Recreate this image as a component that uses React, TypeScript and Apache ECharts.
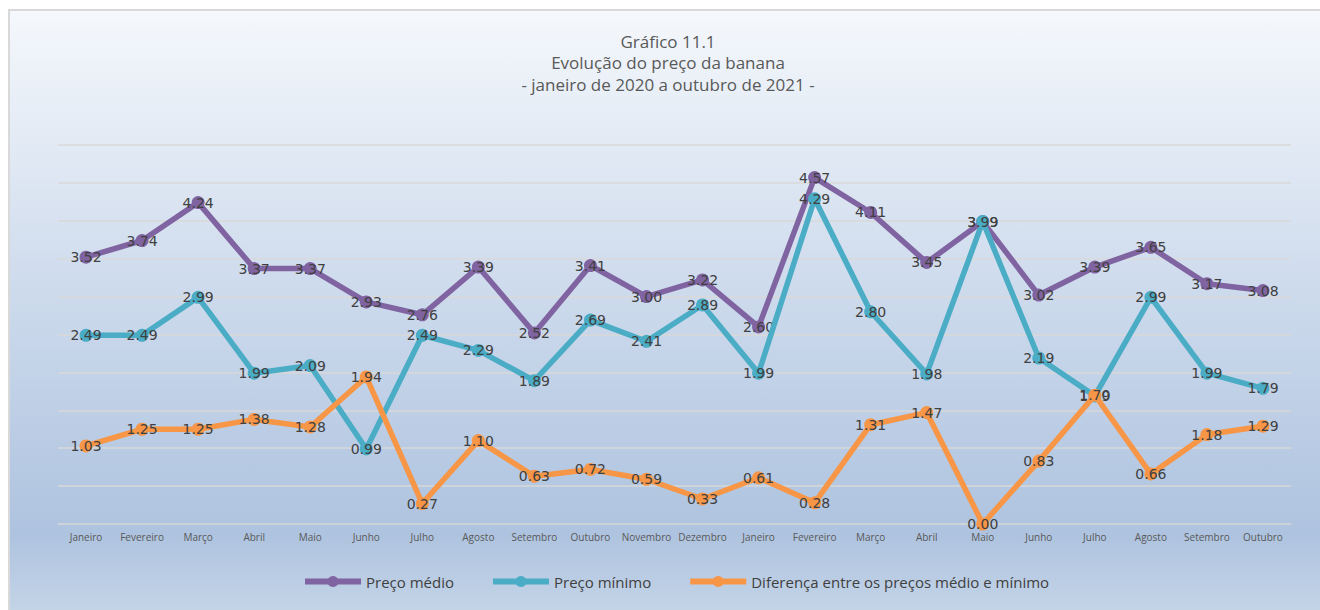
import React, { useEffect, useRef } from "react";
import * as echarts from "echarts";

const meses = [
  "Janeiro", "Fevereiro", "Março", "Abril", "Maio", "Junho", "Julho", "Agosto",
  "Setembro", "Outubro", "Novembro", "Dezembro", "Janeiro", "Fevereiro", "Março",
  "Abril", "Maio", "Junho", "Julho", "Agosto", "Setembro", "Outubro",
];
const precoMedio = [3.52, 3.74, 4.24, 3.37, 3.37, 2.93, 2.76, 3.39, 2.52, 3.41, 3.0, 3.22, 2.6, 4.57, 4.11, 3.45, 3.99, 3.02, 3.39, 3.65, 3.17, 3.08];
const precoMinimo = [2.49, 2.49, 2.99, 1.99, 2.09, 0.99, 2.49, 2.29, 1.89, 2.69, 2.41, 2.89, 1.99, 4.29, 2.8, 1.98, 3.99, 2.19, 1.69, 2.99, 1.99, 1.79];
const diferenca = [1.03, 1.25, 1.25, 1.38, 1.28, 1.94, 0.27, 1.1, 0.63, 0.72, 0.59, 0.33, 0.61, 0.28, 1.31, 1.47, 0.0, 0.83, 1.7, 0.66, 1.18, 1.29];

const seriesNames = ["Preço médio", "Preço mínimo", "Diferença entre os preços médio e mínimo"];
const seriesColors = ["#8064a2", "#4bacc6", "#f79646"];
const titleLines = ["Gráfico 11.1", "Evolução do preço da banana", "- janeiro de 2020 a outubro de 2021 -"];

export default function App() {
  const ref = useRef<HTMLDivElement>(null);
  useEffect(() => {
    if (!ref.current) return;
    const chart = echarts.init(ref.current, undefined, { renderer: "svg" });
    const font = "'Open Sans', 'Noto Sans', sans-serif";
    const mk = (name: string, data: number[], color: string, z: number) => ({
      name,
      type: "line",
      data,
      z,
      symbol: "circle",
      symbolSize: 13,
      lineStyle: { color, width: 5.5 },
      itemStyle: { color },
      label: {
        show: true,
        position: "inside",
        formatter: (p: any) => Number(p.value).toFixed(2),
        color: "#404040",
        fontSize: 14,
        fontFamily: "'DejaVu Sans', sans-serif",
      },
    });
    const titleY = [41, 62.5, 84];
    chart.setOption({
      animation: false,
      graphic: [
        {
          type: "rect",
          z: -10,
          shape: { x: 9, y: 10, width: 1320, height: 610 },
          style: {
            fill: new echarts.graphic.LinearGradient(0, 0, 0, 1, [
              { offset: 0, color: "#f5f8fc" },
              { offset: 0.5, color: "#cad8eb" },
              { offset: 0.86, color: "#aec3df" },
              { offset: 1, color: "#c6d6e8" },
            ]),
            stroke: "#d9d9d9",
            lineWidth: 2,
          },
        },
        ...titleLines.map((t, i) => ({
          type: "text",
          x: 668,
          y: titleY[i],
          style: {
            text: t,
            fill: "#595959",
            fontSize: 17,
            fontFamily: font,
            align: "center",
            verticalAlign: "middle",
          },
        })),
      ],
      legend: {
        top: 569,
        left: 297,
        itemWidth: 56,
        itemHeight: 14,
        itemGap: 36,
        lineStyle: { width: 6 },
        textStyle: { color: "#404040", fontSize: 15, fontFamily: font },
        data: seriesNames,
      },
      grid: { left: 58, right: 29, top: 145, bottom: 86 },
      xAxis: {
        type: "category",
        data: meses,
        boundaryGap: true,
        axisLine: { show: false },
        axisTick: { show: false },
        axisLabel: { color: "#595959", fontSize: 10, fontFamily: font, margin: 8, interval: 0 },
      },
      yAxis: {
        type: "value",
        min: 0,
        max: 5,
        interval: 0.5,
        axisLabel: { show: false },
        axisLine: { show: false },
        axisTick: { show: false },
        splitLine: { lineStyle: { color: "#d9d9d9", width: 1.5 } },
      },
      series: [
        mk(seriesNames[0], precoMedio, seriesColors[0], 3),
        mk(seriesNames[1], precoMinimo, seriesColors[1], 4),
        mk(seriesNames[2], diferenca, seriesColors[2], 5),
      ],
    });
    return () => chart.dispose();
  }, []);
  return (
    <div
      ref={ref}
      style={{ position: "absolute", left: 0, top: 0, width: 1320, height: 610 }}
    />
  );
}
